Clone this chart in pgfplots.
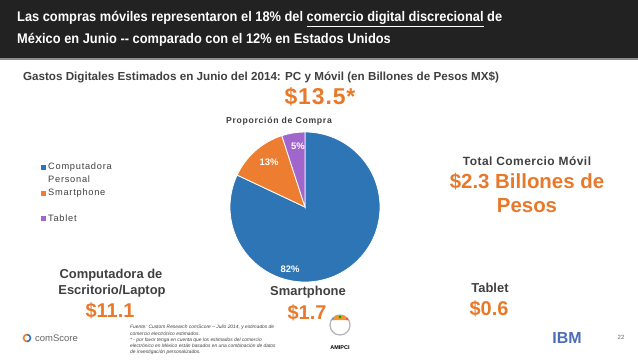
\documentclass[border=0pt]{standalone}
\usepackage{pgfplots}
\pgfplotsset{compat=1.18}
\usepackage{fontspec}
\setmainfont{Liberation Sans}
\newfontfamily\cond[FakeStretch=0.92]{Liberation Sans}
\newfontfamily\spaced[LetterSpace=8]{Liberation Sans}
\newfontfamily\lspaced[LetterSpace=4]{Liberation Sans}
\definecolor{pcblue}{HTML}{2E75B6}
\definecolor{smorange}{HTML}{ED7D31}
\definecolor{tabpurple}{HTML}{A066CB}
\definecolor{txtorange}{HTML}{E8792A}
\definecolor{darktxt}{HTML}{404040}
\definecolor{hdr}{HTML}{222222}
\definecolor{ibmblue}{HTML}{4A6FB5}
\begin{document}
\begin{tikzpicture}
\begin{axis}[x=1bp,y=1bp,xmin=0,xmax=638,ymin=0,ymax=359,y dir=reverse,hide axis,clip=false]
% background and header
\fill[white] (axis cs:0,0) rectangle (axis cs:638,359);
\fill[hdr] (axis cs:0,0) rectangle (axis cs:638,58);
\fill[black!45] (axis cs:0,58) rectangle (axis cs:638,60);
\node[anchor=west,text=white,font=\cond\bfseries\fontsize{14}{16}\selectfont,inner sep=0] at (axis cs:17,19) {Las compras móviles representaron el 18\% del \underline{comercio digital discrecional} de};
\node[anchor=west,text=white,font=\cond\bfseries\fontsize{14}{16}\selectfont,inner sep=0] at (axis cs:17,40) {México en Junio -- comparado con el 12\% en Estados Unidos};
% subtitle
\node[text=darktxt,font=\bfseries\fontsize{11.7}{14}\selectfont,inner sep=0] at (axis cs:261,77) {Gastos Digitales Estimados en Junio del 2014: PC y Móvil (en Billones de Pesos MX\$)};
\node[text=txtorange,font=\lspaced\bfseries\fontsize{23}{26}\selectfont,inner sep=0] at (axis cs:320,97) {\$13.5*};
\node[text=darktxt,font=\spaced\bfseries\fontsize{8.7}{10}\selectfont,inner sep=0] at (axis cs:279,121) {Proporción de Compra};
% pie (shares in percent)
\pgfmathsetmacro{\sA}{82}
\pgfmathsetmacro{\sB}{13}
\pgfmathsetmacro{\sC}{5}
\pgfmathsetmacro{\aA}{90-3.6*\sA}
\pgfmathsetmacro{\aB}{\aA-3.6*\sB}
\pgfmathsetmacro{\aC}{\aB-3.6*\sC}
\fill[pcblue,draw=white,line width=0.8pt] (axis cs:305,207) -- ++(90:75bp) arc[start angle=90,end angle=\aA,radius=75bp] -- cycle;
\fill[smorange,draw=white,line width=0.8pt] (axis cs:305,207) -- ++(\aA:75bp) arc[start angle=\aA,end angle=\aB,radius=75bp] -- cycle;
\fill[tabpurple,draw=white,line width=0.8pt] (axis cs:305,207) -- ++(\aB:75bp) arc[start angle=\aB,end angle=\aC,radius=75bp] -- cycle;
\node[text=white,font=\bfseries\fontsize{9.5}{11}\selectfont,inner sep=0] at (axis cs:290,269) {82\%};
\node[text=white,font=\bfseries\fontsize{9.5}{11}\selectfont,inner sep=0] at (axis cs:269,162) {13\%};
\node[text=white,font=\bfseries\fontsize{9.5}{11}\selectfont,inner sep=0] at (axis cs:298,146) {5\%};
% legend
\fill[pcblue] (axis cs:41,164.5) rectangle (axis cs:46,169.5);
\fill[smorange] (axis cs:41,190.5) rectangle (axis cs:46,195.5);
\fill[tabpurple] (axis cs:41,215.5) rectangle (axis cs:46,220.5);
\node[anchor=west,text=darktxt,font=\spaced\fontsize{9.3}{10}\selectfont,inner sep=0] at (axis cs:48,167) {Computadora};
\node[anchor=west,text=darktxt,font=\spaced\fontsize{9.3}{10}\selectfont,inner sep=0] at (axis cs:48,179) {Personal};
\node[anchor=west,text=darktxt,font=\spaced\fontsize{9.3}{10}\selectfont,inner sep=0] at (axis cs:48,193) {Smartphone};
\node[anchor=west,text=darktxt,font=\spaced\fontsize{9.3}{10}\selectfont,inner sep=0] at (axis cs:48,218) {Tablet};
% right text
\node[text=darktxt,font=\lspaced\bfseries\fontsize{12}{13}\selectfont,inner sep=0] at (axis cs:527,161) {Total Comercio Móvil};
\node[text=txtorange,font=\bfseries\fontsize{20.5}{22}\selectfont,inner sep=0] at (axis cs:527,182) {\$2.3 Billones de};
\node[text=txtorange,font=\bfseries\fontsize{20.5}{22}\selectfont,inner sep=0] at (axis cs:527,206) {Pesos};
% bottom labels
\node[text=darktxt,font=\bfseries\fontsize{13}{14}\selectfont,inner sep=0] at (axis cs:111,275) {Computadora de};
\node[text=darktxt,font=\bfseries\fontsize{13}{14}\selectfont,inner sep=0] at (axis cs:112,291) {Escritorio/Laptop};
\node[text=txtorange,font=\bfseries\fontsize{20}{24}\selectfont,inner sep=0] at (axis cs:110,311) {\$11.1};
\node[text=darktxt,font=\bfseries\fontsize{13}{14}\selectfont,inner sep=0] at (axis cs:308,292) {Smartphone};
\node[text=txtorange,font=\bfseries\fontsize{20}{24}\selectfont,inner sep=0] at (axis cs:307,313) {\$1.7};
\node[text=darktxt,font=\bfseries\fontsize{13}{14}\selectfont,inner sep=0] at (axis cs:490,288) {Tablet};
\node[text=txtorange,font=\bfseries\fontsize{20}{24}\selectfont,inner sep=0] at (axis cs:489,309) {\$0.6};
% footnote
\node[anchor=north west,align=left,text=darktxt,font=\itshape\fontsize{4.9}{6.3}\selectfont,inner sep=0] at (axis cs:130,325) {Fuente: Custom Research comScore -- Julio 2014, y estimados de\\ comercio electrónico estimados.\\ * - por favor tenga en cuenta que los estimados del comercio\\ electrónico en México están basados en una combinación de datos\\ de investigación personalizados.};
% logos
\draw[smorange,line width=1.6pt] (axis cs:27,338) ++(90:3.5bp) arc[start angle=90,end angle=270,radius=3.5bp];
\draw[pcblue,line width=1.6pt] (axis cs:27,338) ++(-90:3.5bp) arc[start angle=-90,end angle=90,radius=3.5bp];
\node[anchor=west,text=black!60,font=\fontsize{9.5}{10}\selectfont,inner sep=0] at (axis cs:35,338.5) {comScore};
\draw[black!30,line width=1.2pt] (axis cs:340,325) circle[radius=10bp];
\fill[smorange!80!yellow] (axis cs:340,325) ++(150:10bp) arc[start angle=150,end angle=30,radius=10bp] -- cycle;
\fill[pcblue!70] (axis cs:333,319) circle[radius=1.3bp];
\fill[green!60!black] (axis cs:340,317) circle[radius=1.3bp];
\fill[red!70] (axis cs:347,319) circle[radius=1.3bp];
\fill[white] (axis cs:340,328) circle[radius=5.5bp];
\node[text=black,font=\bfseries\fontsize{5.5}{6}\selectfont,inner sep=0] at (axis cs:340,348) {AMIPCI};
\node[text=ibmblue,font=\bfseries\fontsize{16}{18}\selectfont,inner sep=0] at (axis cs:567,338) {IBM};
\node[text=black!60,font=\fontsize{6}{7}\selectfont,inner sep=0] at (axis cs:621,337) {22};
\end{axis}
\end{tikzpicture}
\end{document}
